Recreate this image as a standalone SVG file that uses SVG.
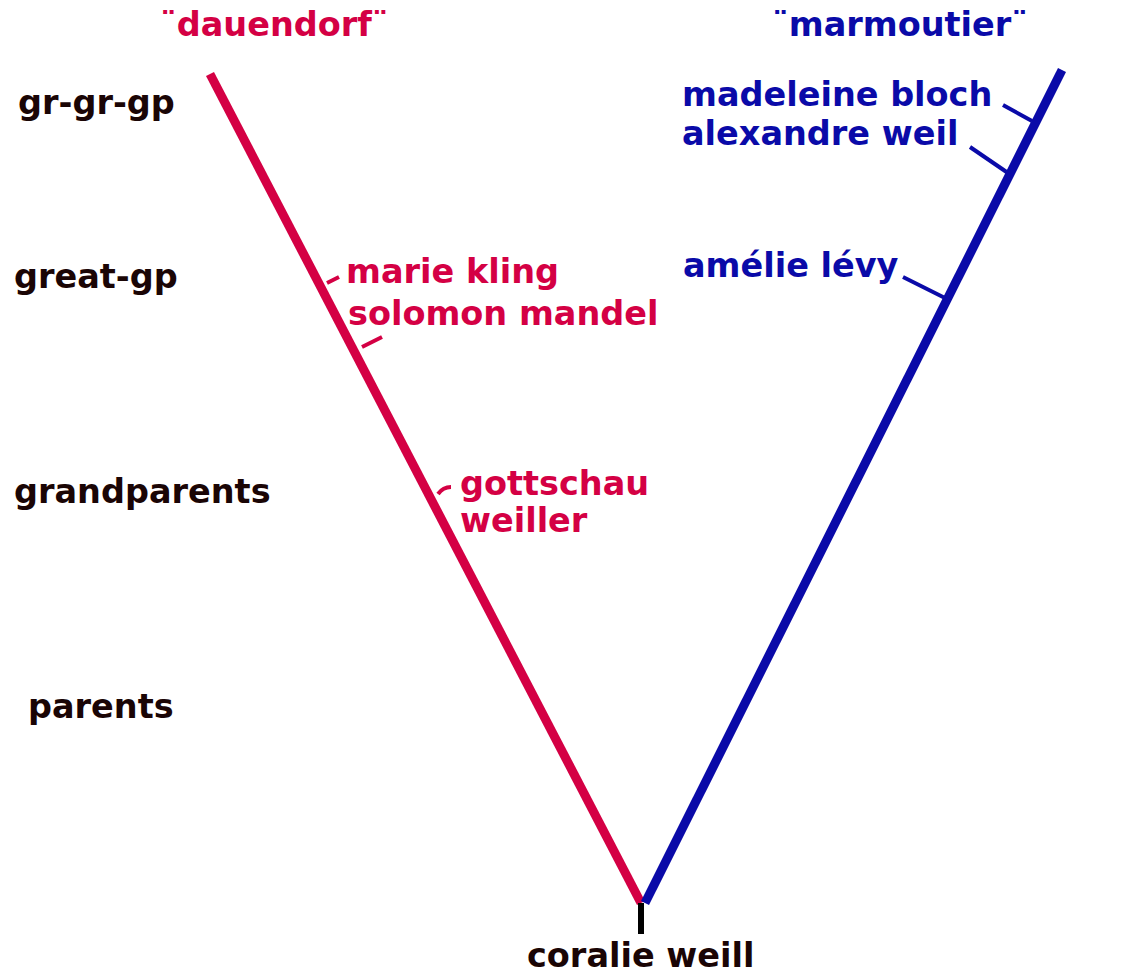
<svg xmlns="http://www.w3.org/2000/svg" width="1145" height="974" viewBox="0 0 1145 974">
<style>
text{font-family:"DejaVu Sans",Verdana,sans-serif;font-weight:bold;font-size:33.5px}
.k{fill:#1a0505}
.r{fill:#d40044}
.b{fill:#0a0aa8}
.lr{stroke:#d40044;fill:none}
.lb{stroke:#0a0aa8;fill:none}
</style>
<rect width="1145" height="974" fill="#ffffff"/>
<g id="connectors">
<line class="lr" x1="210" y1="74" x2="641" y2="903" stroke-width="9"/>
<line class="lb" x1="1062" y1="70" x2="645" y2="903" stroke-width="9"/>
<line x1="641" y1="903" x2="641" y2="934" stroke="#000" stroke-width="6"/>
<line class="lr" x1="327" y1="283" x2="339" y2="277" stroke-width="4"/>
<line class="lr" x1="362" y1="347" x2="382" y2="337" stroke-width="4"/>
<path class="lr" d="M438 494 Q443 487 451 487" stroke-width="4"/>
<line class="lb" x1="1003" y1="105" x2="1032" y2="121" stroke-width="4"/>
<line class="lb" x1="970" y1="147" x2="1008" y2="173" stroke-width="4"/>
<line class="lb" x1="903" y1="277" x2="945" y2="298" stroke-width="4"/>
</g>
<g id="gen-labels">
<text class="k" x="18" y="114">gr-gr-gp</text>
<text class="k" x="14" y="288">great-gp</text>
<text class="k" x="14" y="503">grandparents</text>
<text class="k" x="28" y="718">parents</text>
</g>
<g id="dauendorf"><text class="r" x="160" y="36">¨dauendorf¨</text></g>
<g id="marmoutier"><text class="b" x="772" y="36">¨marmoutier¨</text></g>
<g id="kling-mandel">
<text class="r" x="346" y="283">marie kling</text>
<text class="r" x="348" y="325">solomon mandel</text>
</g>
<g id="gottschau-weiller">
<text class="r" x="460" y="495">gottschau</text>
<text class="r" x="460" y="532">weiller</text>
</g>
<g id="bloch-weil">
<text class="b" x="682" y="106">madeleine bloch</text>
<text class="b" x="682" y="145">alexandre weil</text>
</g>
<g id="levy"><text class="b" x="683" y="277">amélie lévy</text></g>
<g id="coralie"><text class="k" x="527" y="967">coralie weill</text></g>
</svg>
